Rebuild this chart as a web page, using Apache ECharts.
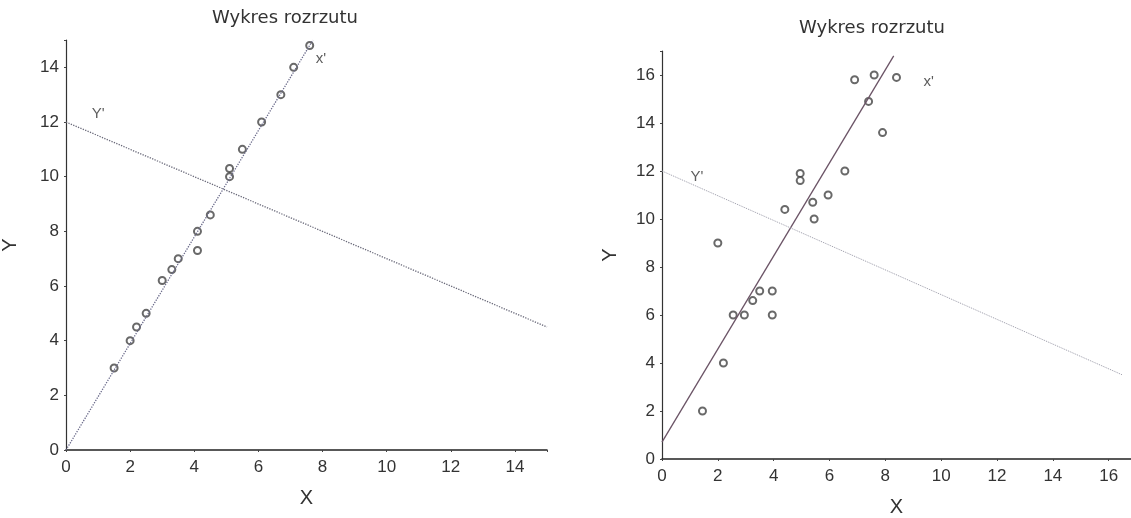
<!DOCTYPE html>
<html>
<head>
<meta charset="utf-8">
<title>Wykres rozrzutu</title>
<script src="https://cdn.jsdelivr.net/npm/echarts@6/dist/echarts.min.js"></script>
<style>
html, body { margin: 0; padding: 0; background: #fff; }
#main { width: 1131px; height: 518px; }
</style>
</head>
<body>
<div id="main"></div>
<script>
// lewy wykres - punkty prawie na prostej
const leftX = [1.5, 2, 2.2, 2.5, 3, 3.3, 3.5, 4.1, 4.1, 4.5, 5.1, 5.1, 5.5, 6.1, 6.7, 7.1, 7.6]
const leftY = [3, 4, 4.5, 5, 6.2, 6.6, 7, 7.3, 8, 8.6, 10, 10.3, 11, 12, 13, 14, 14.8]
// proste X' i Y' (konce odcinkow)
const leftXpX = [0, 7.7]
const leftXpY = [0, 15]
const leftYpX = [0, 15]
const leftYpY = [12, 4.5]

// prawy wykres - punkty rozrzucone
const rightX = [1.45, 2.2, 2.55, 2.95, 3.25, 3.5, 3.95, 3.95, 2.0, 4.4, 4.95, 4.95, 5.4, 5.45, 5.95, 6.55, 6.9, 7.6, 8.4, 7.4, 7.9]
const rightY = [2, 4, 6, 6, 6.6, 7, 7, 6, 9, 10.4, 11.9, 11.6, 10.7, 10, 11, 12, 15.8, 16, 15.9, 14.9, 13.6]
const rightXpX = [0, 8.3]
const rightXpY = [0.7, 16.8]
const rightYpX = [0, 16.5]
const rightYpY = [12, 3.5]

// podpisy prostych
const lineNames = ["x'", "Y'"]
const leftLabelX = [7.95, 1.0]
const leftLabelY = [14.3, 12.3]
const rightLabelX = [9.55, 1.25]
const rightLabelY = [15.7, 11.75]

const yTicks = [0, 2, 4, 6, 8, 10, 12, 14, 16]

const font = 'Liberation Sans, Arial, sans-serif'

function pairs(xs, ys) {
    return xs.map((x, i) => [x, ys[i]])
}
function labels(xs, ys) {
    return xs.map((x, i) => ({ value: [x, ys[i]], name: lineNames[i] }))
}
function evenOnly(v) {
    return yTicks.indexOf(v) >= 0 ? String(v) : ''
}

function xAxis(idx, max, gap) {
    return {
        gridIndex: idx, type: 'value', min: 0, max: max, interval: 2,
        name: 'X', nameLocation: 'middle', nameGap: gap,
        nameTextStyle: { fontFamily: font, fontSize: 20, color: '#333' },
        axisLine: { onZero: false, lineStyle: { color: '#222', width: 1.5 } },
        axisTick: { show: true, length: 2, lineStyle: { color: '#444' } },
        axisLabel: { formatter: evenOnly, fontFamily: font, fontSize: 17, color: '#333', margin: 9 },
        splitLine: { show: false }
    }
}
function yAxis(idx, max, gap) {
    return {
        gridIndex: idx, type: 'value', min: 0, max: max, interval: 2,
        name: 'Y', nameLocation: 'middle', nameGap: gap,
        nameTextStyle: { fontFamily: font, fontSize: 20, color: '#333' },
        axisLine: { onZero: false, lineStyle: { color: '#333', width: 1.2 } },
        axisTick: { show: true, length: 2, lineStyle: { color: '#444' } },
        axisLabel: { formatter: evenOnly, fontFamily: font, fontSize: 17, color: '#333', margin: 7 },
        splitLine: { show: false }
    }
}

const pointStyle = { color: '#444', borderWidth: 1 }
const titleStyle = { fontFamily: 'DejaVu Sans, sans-serif', fontSize: 18, fontWeight: 'normal', color: '#333' }
const labelSeries = (xi, data) => ({
    type: 'scatter', xAxisIndex: xi, yAxisIndex: xi, symbolSize: 0, silent: true,
    data: data,
    label: { show: true, position: 'inside', formatter: '{b}', fontFamily: font, fontSize: 15, color: '#333' }
})

const chart = echarts.init(document.getElementById('main'))
chart.setOption({
    animation: false,
    backgroundColor: '#fff',
    title: [
        { text: 'Wykres rozrzutu', left: 280, top: 4, textAlign: 'center', textStyle: titleStyle },
        { text: 'Wykres rozrzutu', left: 867, top: 14, textAlign: 'center', textStyle: titleStyle }
    ],
    grid: [
        { left: 66, top: 40, width: 481, height: 410, outerBoundsMode: 'none' },
        { left: 662, top: 51, width: 469, height: 408, outerBoundsMode: 'none' }
    ],
    xAxis: [xAxis(0, 15, 38), xAxis(1, 16.8, 38)],
    yAxis: [yAxis(0, 15, 46), yAxis(1, 17, 42)],
    series: [
        {   // X' lewy - kropkowana
            type: 'line', xAxisIndex: 0, yAxisIndex: 0, showSymbol: false, silent: true,
            data: pairs(leftXpX, leftXpY),
            lineStyle: { type: 'dotted', color: '#6a6a8a', width: 1.3 }
        },
        {   // Y' lewy
            type: 'line', xAxisIndex: 0, yAxisIndex: 0, showSymbol: false, silent: true,
            data: pairs(leftYpX, leftYpY),
            lineStyle: { type: 'dotted', color: '#6a6a7a', width: 1.3 }
        },
        {
            type: 'scatter', xAxisIndex: 0, yAxisIndex: 0, symbol: 'emptyCircle', symbolSize: 7,
            data: pairs(leftX, leftY), itemStyle: pointStyle
        },
        labelSeries(0, labels(leftLabelX, leftLabelY)),
        {   // X' prawy - ciagla
            type: 'line', xAxisIndex: 1, yAxisIndex: 1, showSymbol: false, silent: true,
            data: pairs(rightXpX, rightXpY),
            lineStyle: { type: 'solid', color: '#6b5466', width: 1.3 }
        },
        {   // Y' prawy
            type: 'line', xAxisIndex: 1, yAxisIndex: 1, showSymbol: false, silent: true,
            data: pairs(rightYpX, rightYpY),
            lineStyle: { type: 'dotted', color: '#9a9aa8', width: 1 }
        },
        {
            type: 'scatter', xAxisIndex: 1, yAxisIndex: 1, symbol: 'emptyCircle', symbolSize: 7,
            data: pairs(rightX, rightY), itemStyle: pointStyle
        },
        labelSeries(1, labels(rightLabelX, rightLabelY))
    ]
})
</script>
</body>
</html>
